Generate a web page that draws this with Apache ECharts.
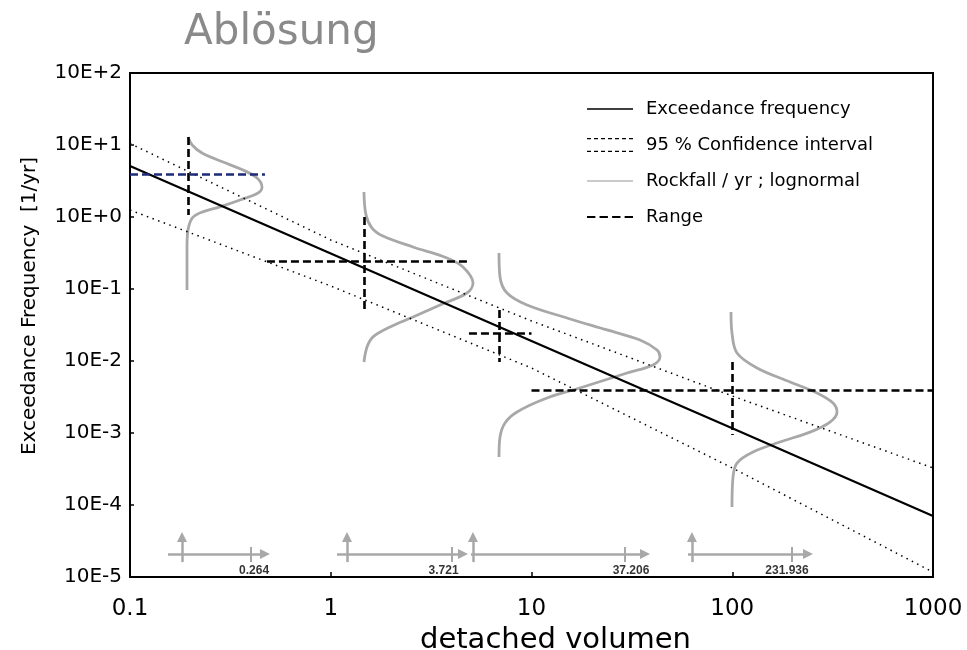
<!DOCTYPE html>
<html><head><meta charset="utf-8">
<script src="https://cdn.jsdelivr.net/npm/echarts@6/dist/echarts.min.js"></script>
<style>html,body{margin:0;padding:0;background:#fff}#c{width:967px;height:650px}</style>
</head><body><div id="c"></div>
<script>
// ---------- text ----------
const titleText = 'Ablösung';
const xAxisName = 'detached volumen';
const yAxisName = 'Exceedance Frequency  [1/yr]';
const xTickLabels = ['0.1', '1', '10', '100', '1000'];
const yTickLabels = ['10E-5', '10E-4', '10E-3', '10E-2', '10E-1', '10E+0', '10E+1', '10E+2'];
const seriesNames = ['Exceedance frequency', '95 % Confidence interval', 'Rockfall / yr ; lognormal', 'Range'];

// ---------- exceedance line and confidence band ----------
const volumes = [0.1, 1, 10, 100, 1000];
const exceedance = [5.1, 0.311, 0.019, 0.00116, 0.0000703];
const ciUpper = [10.5, 0.48, 0.036, 0.00327, 0.000327];
const ciLower = [1.25, 0.110, 0.0080, 0.000327, 0.0000117];

// ---------- lognormal rockfall curves (volume, frequency) ----------
const curve1X = [0.1945, 0.204, 0.2285, 0.2906, 0.3655, 0.4293, 0.4545, 0.4341, 0.353, 0.2805, 0.2285, 0.204, 0.1945, 0.1923, 0.1923];
const curve1Y = [12.9, 10.0, 7.74, 5.81, 4.50, 3.48, 2.61, 2.15, 1.72, 1.38, 1.17, 0.968, 0.660, 0.383, 0.0969];
const curve2X = [1.464, 1.498, 1.605, 1.821, 2.569, 3.794, 4.558, 5.112, 4.771, 3.501, 2.569, 1.973, 1.624, 1.516, 1.464];
const curve2Y = [2.23, 1.07, 0.703, 0.545, 0.383, 0.270, 0.202, 0.121, 0.0880, 0.0600, 0.0408, 0.0297, 0.0216, 0.0156, 0.00968];
const curve3X = [6.888, 6.968, 7.551, 9.50, 15.02, 23.78, 34.72, 42.20, 43.66, 40.29, 29.91, 18.05, 11.95, 8.47, 7.379, 6.968, 6.888];
const curve3Y = [0.316, 0.147, 0.0880, 0.0600, 0.0396, 0.0270, 0.0196, 0.0142, 0.0114, 0.00880, 0.00681, 0.00435, 0.00306, 0.00196, 0.00138, 0.000880, 0.000464];
const curve4X = [98.58, 99.7, 105.6, 132.8, 194.0, 264.4, 317.6, 332.5, 306.9, 243.9, 172.9, 126.9, 105.6, 100.9, 99.7];
const curve4Y = [0.0480, 0.0245, 0.0129, 0.00800, 0.00511, 0.00360, 0.00261, 0.00196, 0.00142, 0.00103, 0.000750, 0.000545, 0.000383, 0.000245, 0.0000938];

// ---------- ranges (dashed crosses) ----------
const rangeHY = [3.95, 0.245, 0.0245, 0.00395];
const rangeHFrom = [0.1, 0.481, 4.88, 10];
const rangeHTo = [0.470, 4.94, 10, 1000];
const rangeVX = [0.195, 1.464, 6.888, 100];
const rangeVFrom = [12.9, 1.0, 0.0511, 0.00968];
const rangeVTo = [1.07, 0.0511, 0.00968, 0.000938];

// ---------- volume arrows at the bottom ----------
const arrowLabels = ['0.264', '3.721', '37.206', '231.936'];
const arrowLabelX = [0.415, 3.65, 31.3, 187.4];
const arrowUpX = [0.1816, 1.205, 5.11, 63.0];
const arrowStartX = [0.1546, 1.074, 4.995, 60.2];
const arrowEndX = [0.470, 4.558, 36.76, 238.4];
const arrowTickX = [0.401, 4.018, 29.23, 198.5];
const arrowLineY = 2.09e-5;
const arrowUpFrom = 1.61e-5;
const arrowUpTo = 3.59e-5;
const arrowTickFrom = 1.61e-5;
const arrowTickTo = 2.61e-5;
const arrowLabelY = 1.22e-5;

// ---------- build ----------
const FONT = 'DejaVu Sans';
const zip = (xs, ys) => xs.map((x, i) => [x, ys[i]]);
const GREY = '#a8a8a8';

function linePath(w, h) { return 'path://M0,0h' + w + 'v' + h + 'h-' + w + 'z'; }
function dashPath(dash, gap, count, h, rows, rowGap) {
  let p = 'path://';
  for (let r = 0; r < rows; r++) {
    for (let i = 0; i < count; i++) {
      const x0 = i * (dash + gap), y0 = r * rowGap;
      p += 'M' + x0 + ',' + y0 + 'h' + dash + 'v' + h + 'h-' + dash + 'z';
    }
  }
  return p;
}

const rangeLines = [];
rangeHY.forEach((y, i) => {
  const first = { coord: [rangeHFrom[i], y] };
  if (i === 0) first.lineStyle = { color: '#1c2a78' };
  rangeLines.push([first, { coord: [rangeHTo[i], y] }]);
});
rangeVX.forEach((x, i) => {
  rangeLines.push([{ coord: [x, rangeVFrom[i]] }, { coord: [x, rangeVTo[i]] }]);
});

const arrowLines = [];
const tickLines = [];
arrowUpX.forEach((x, i) => {
  arrowLines.push([{ coord: [x, arrowUpFrom] }, { coord: [x, arrowUpTo] }]);
  arrowLines.push([{ coord: [arrowStartX[i], arrowLineY] }, { coord: [arrowEndX[i], arrowLineY] }]);
  tickLines.push([{ coord: [arrowTickX[i], arrowTickFrom] }, { coord: [arrowTickX[i], arrowTickTo] }]);
});

const curveStyle = { color: GREY, width: 2.8 };
function curveSeries(xs, ys) {
  return {
    name: seriesNames[2], type: 'line', data: zip(xs, ys), smooth: 0.35,
    symbol: 'none', lineStyle: curveStyle, itemStyle: { color: GREY }, z: 2
  };
}

const ciStyle = { color: '#000', width: 1.5, type: [1.5, 4.5] };

const option = {
  animation: false,
  backgroundColor: '#fff',
  title: {
    text: titleText, left: 179, top: 7,
    textStyle: { fontFamily: FONT, fontSize: 42, fontWeight: 'normal', color: '#8a8a8a' }
  },
  grid: {
    left: 130, right: 34, top: 73, bottom: 73, containLabel: false, outerBoundsMode: 'none',
    show: true, borderColor: '#000', borderWidth: 2, backgroundColor: 'transparent'
  },
  legend: {
    orient: 'vertical', left: 582, top: 94,
    itemWidth: 46, itemHeight: 14, itemGap: 16,
    selectedMode: false,
    itemStyle: { borderWidth: 0 },
    textStyle: { fontFamily: FONT, fontSize: 18, color: '#000', lineHeight: 20, padding: [0, 0, 0, 8] },
    data: [
      { name: seriesNames[0], icon: linePath(46, 1.5) },
      { name: seriesNames[1], icon: dashPath(4, 3, 7, 1.3, 2, 12.7) },
      { name: seriesNames[2], icon: linePath(46, 1.3), itemStyle: { color: '#b8b8b8' } },
      { name: seriesNames[3], icon: dashPath(8, 4, 4, 2, 1, 0) }
    ]
  },
  xAxis: {
    type: 'log', logBase: 10, min: 0.1, max: 1000,
    name: xAxisName, nameLocation: 'middle', nameGap: 42,
    nameTextStyle: { fontFamily: FONT, fontSize: 29, color: '#000', padding: [0, 0, 0, 48] },
    axisLine: { lineStyle: { color: '#000', width: 2 } },
    axisTick: { inside: true, length: 5, lineStyle: { color: '#000', width: 1.5 } },
    axisLabel: {
      margin: 21, fontFamily: FONT, fontSize: 23, color: '#000',
      formatter: v => xTickLabels[Math.round(Math.log10(v)) + 1]
    },
    splitLine: { show: false }
  },
  yAxis: {
    type: 'log', logBase: 10, min: 1e-5, max: 1e2,
    name: yAxisName, nameLocation: 'middle', nameGap: 90, nameRotate: 90,
    nameTextStyle: { fontFamily: FONT, fontSize: 20, color: '#000', padding: [0, 0, 0, 38] },
    axisLine: { lineStyle: { color: '#000', width: 2 } },
    axisTick: { inside: true, length: 4, lineStyle: { color: '#000', width: 1.5 } },
    axisLabel: {
      margin: 8, fontFamily: FONT, fontSize: 20, color: '#000',
      formatter: v => yTickLabels[Math.round(Math.log10(v)) + 5]
    },
    splitLine: { show: false }
  },
  series: [
    {
      name: seriesNames[0], type: 'line', data: zip(volumes, exceedance), symbol: 'none',
      lineStyle: { color: '#000', width: 2.2 }, itemStyle: { color: '#000' }, z: 4
    },
    {
      name: seriesNames[1], type: 'line', data: zip(volumes, ciUpper), symbol: 'none',
      lineStyle: ciStyle, itemStyle: { color: '#000' }, z: 3
    },
    {
      name: seriesNames[1], type: 'line', data: zip(volumes, ciLower), symbol: 'none',
      lineStyle: ciStyle, itemStyle: { color: '#000' }, z: 3
    },
    curveSeries(curve1X, curve1Y),
    curveSeries(curve2X, curve2Y),
    curveSeries(curve3X, curve3Y),
    curveSeries(curve4X, curve4Y),
    {
      name: seriesNames[3], type: 'line', data: [], symbol: 'none',
      lineStyle: { color: '#000', width: 2, type: [8, 4] }, itemStyle: { color: '#000' },
      markLine: {
        silent: true, symbol: 'none', animation: false,
        label: { show: false },
        lineStyle: { color: '#000', width: 2.6, type: [8, 4] },
        emphasis: { disabled: true },
        data: rangeLines
      }, z: 5
    },
    {
      name: 'arrows', type: 'line', data: [], symbol: 'none',
      itemStyle: { color: GREY },
      markLine: {
        silent: true, symbol: ['none', 'triangle'], symbolSize: [10, 10], animation: false,
        label: { show: false },
        lineStyle: { color: GREY, width: 2.5, type: 'solid' },
        emphasis: { disabled: true },
        data: arrowLines
      }
    },
    {
      name: 'ticks', type: 'line', data: [], symbol: 'none',
      itemStyle: { color: GREY },
      markLine: {
        silent: true, symbol: 'none', animation: false,
        label: { show: false },
        lineStyle: { color: GREY, width: 2, type: 'solid' },
        emphasis: { disabled: true },
        data: tickLines
      }
    },
    {
      name: 'volume labels', type: 'scatter', symbolSize: 0, silent: true,
      data: arrowLabelX.map((x, i) => ({ value: [x, arrowLabelY], name: arrowLabels[i] })),
      label: { show: true, position: 'inside', formatter: '{b}', fontFamily: 'Liberation Sans', fontSize: 12, fontWeight: 'bold', color: '#000' }
    }
  ]
};

const chart = echarts.init(document.getElementById('c'), null, { renderer: 'canvas' });
chart.setOption(option);
</script>
</body></html>
